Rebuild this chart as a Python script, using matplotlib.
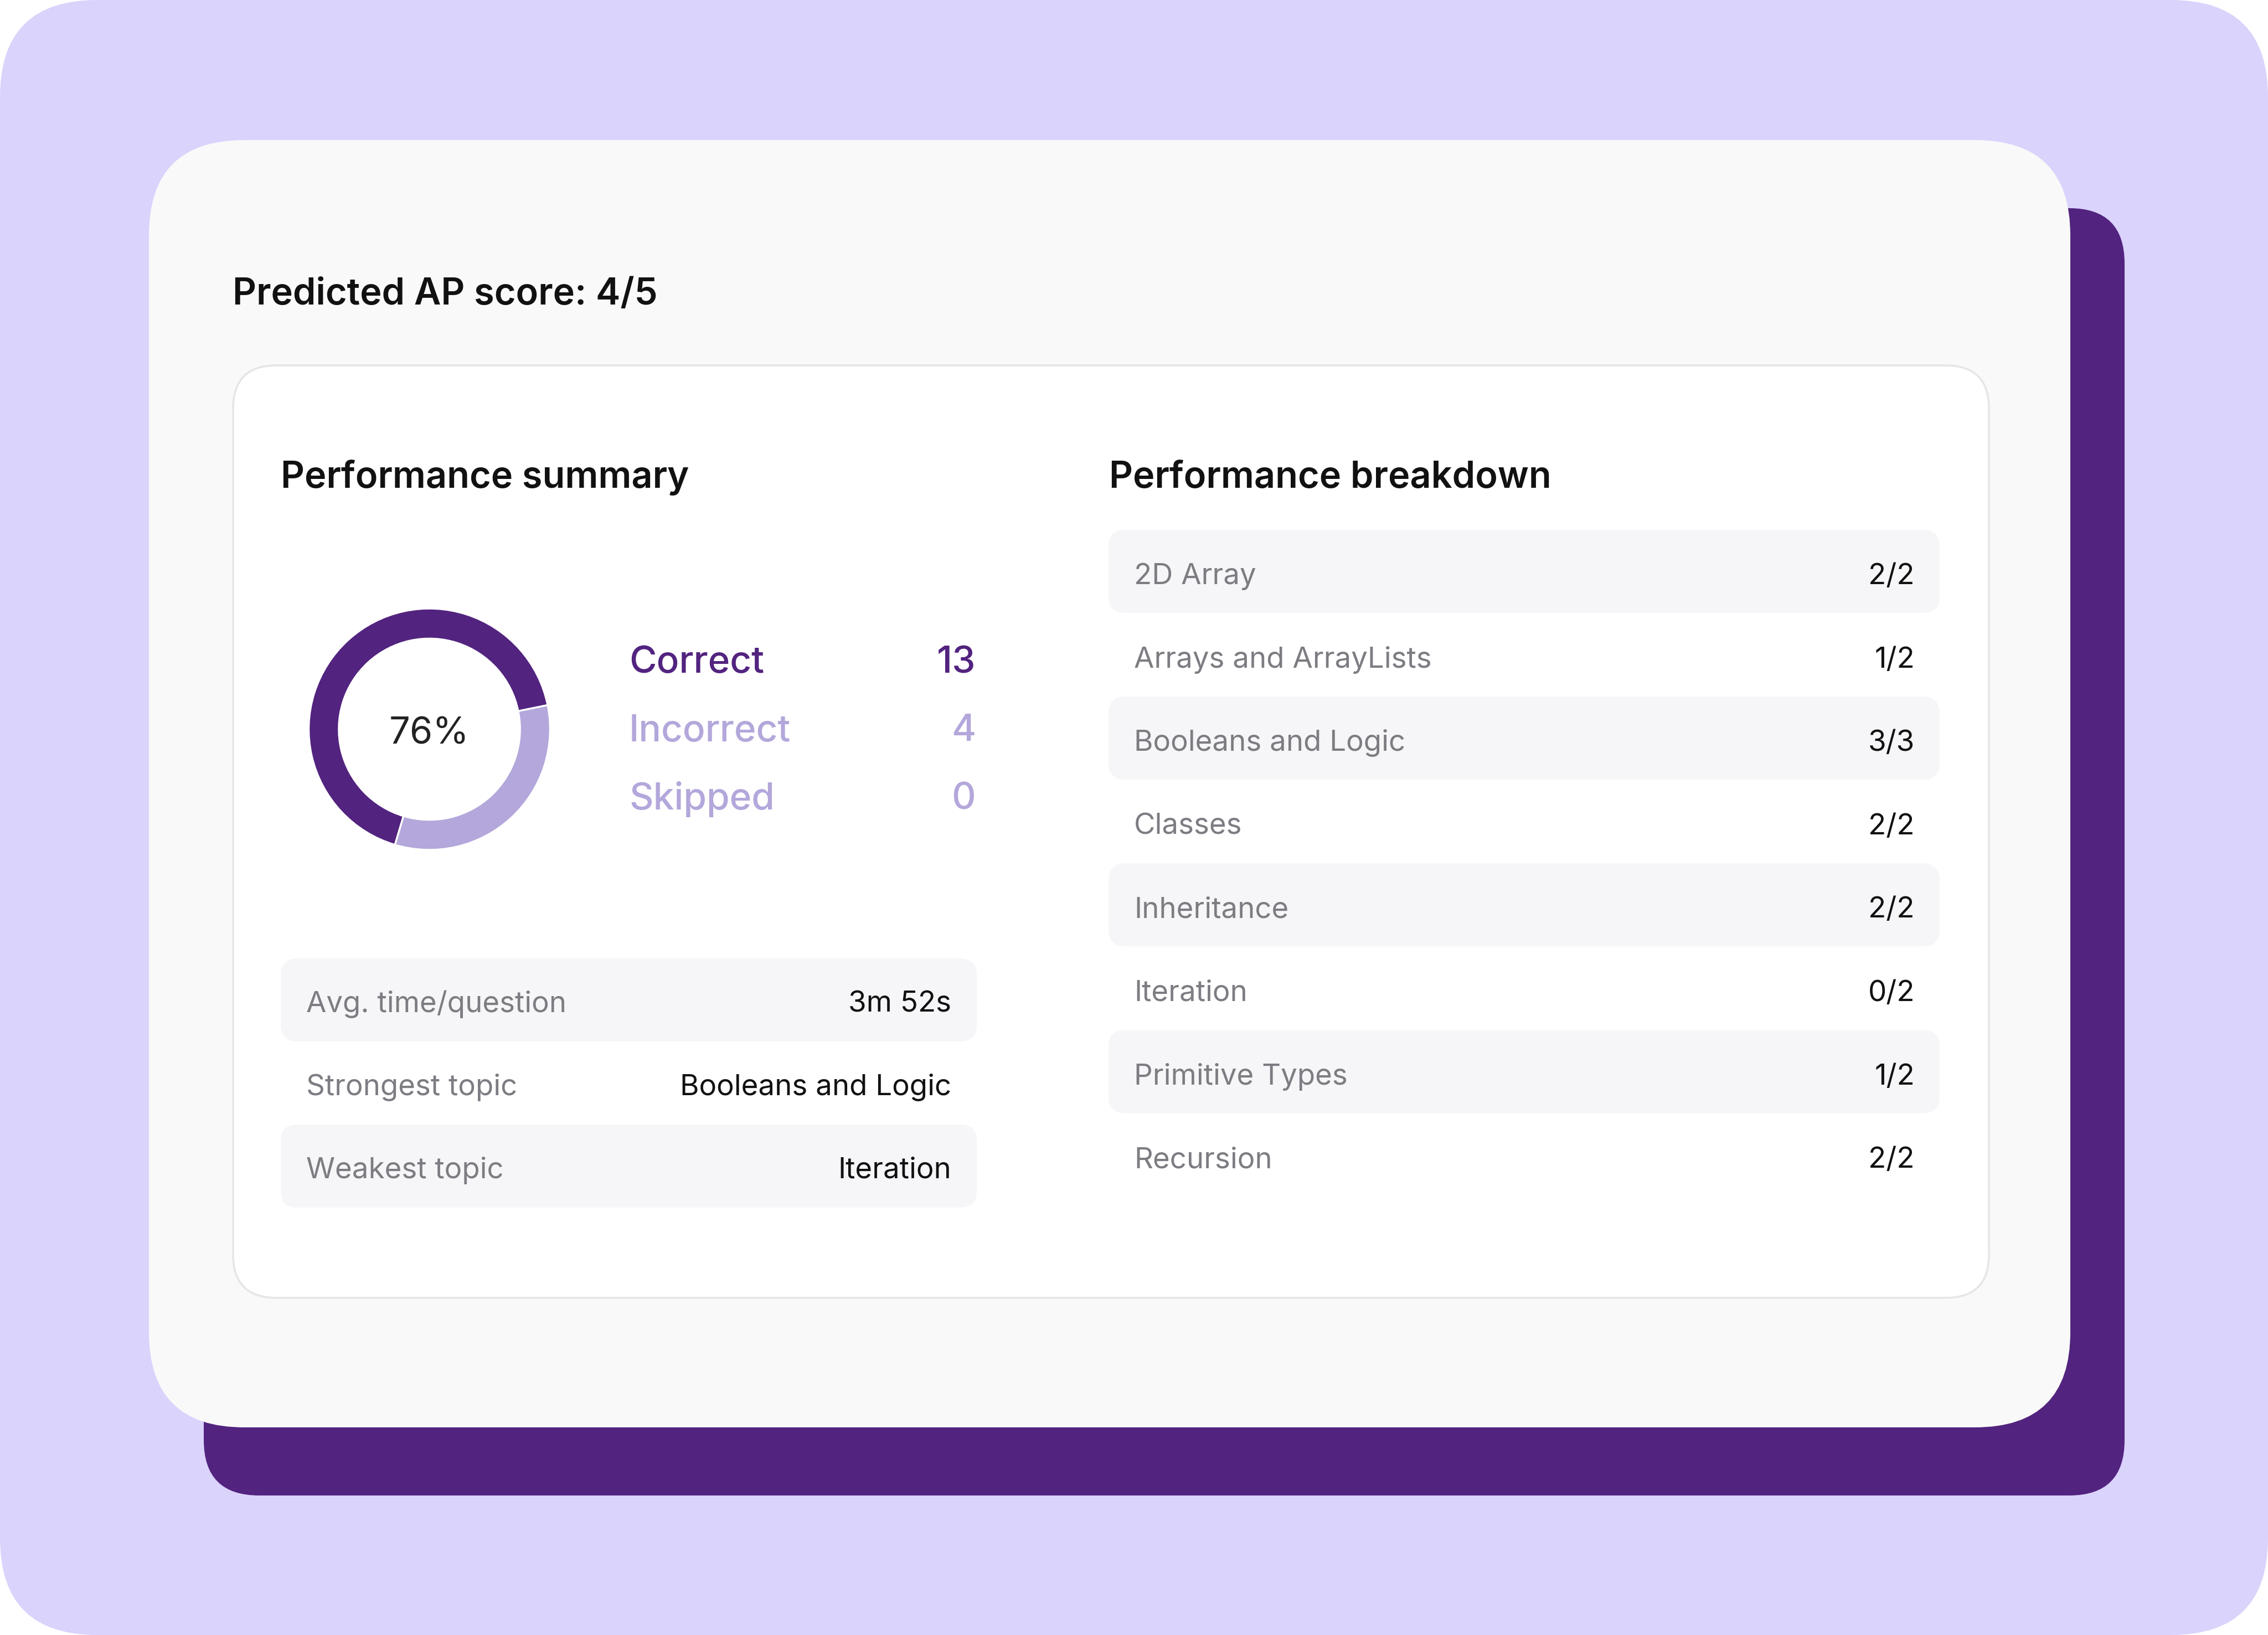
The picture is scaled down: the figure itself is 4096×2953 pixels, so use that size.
import numpy as np
import matplotlib
matplotlib.use('Agg')
import matplotlib.pyplot as plt
from matplotlib.patches import FancyBboxPatch

plt.rcParams['font.family'] = ['Inter', 'DejaVu Sans']

# data ========================================================================
score_title = 'Predicted AP score: 4/5'
score_pct = '76%'

summary_labels = ['Correct', 'Incorrect', 'Skipped']
summary_counts = [13, 4, 0]
# ring as drawn in the card (it does not follow 13/17 exactly)
ring_shares = [67.2, 32.8]

stat_labels = ['Avg. time/question', 'Strongest topic', 'Weakest topic']
stat_values = ['3m 52s', 'Booleans and Logic', 'Iteration']

topics = ['2D Array', 'Arrays and ArrayLists', 'Booleans and Logic',
          'Classes', 'Inheritance', 'Iteration', 'Primitive Types',
          'Recursion']
topic_correct = [2, 1, 3, 2, 2, 0, 1, 2]
topic_total = [2, 2, 3, 2, 2, 2, 2, 2]

# style =======================================================================
W, H = 4096, 2953
DPI = 200
LAVENDER = '#DAD3FC'
DEEP = '#52237F'
LIGHT = '#B3A7DB'
CARD = '#F9F9F9'
STRIPE = '#F6F6F8'
GREY_TXT = '#7C7C82'
INK = '#111111'
TITLE_SIZE = 24.0
TABLE_SIZE = 19.0


def rounded_box(ax, x0, y0, x1, y1, r, fc, ec='none', lw=0, z=1):
    ax.add_patch(FancyBboxPatch(
        (x0, y0), x1 - x0, y1 - y0,
        boxstyle=f'round,pad=0,rounding_size={r}',
        facecolor=fc, edgecolor=ec, linewidth=lw, zorder=z))


fig = plt.figure(figsize=(W / DPI, H / DPI), dpi=DPI, facecolor='white')
ax = fig.add_axes([0, 0, 1, 1])
ax.set_xlim(0, W)
ax.set_ylim(H, 0)
ax.axis('off')

# background layers
rounded_box(ax, 0, 0, W, H, 175, LAVENDER, z=0)
rounded_box(ax, 368, 376, 3837, 2701, 100, DEEP, z=1)
rounded_box(ax, 269, 253, 3739, 2578, 172, CARD, z=2)
rounded_box(ax, 421, 660, 3592, 2344, 78, 'white', ec='#E6E6EA', lw=1.3, z=3)

ax.text(420, 550, score_title, fontsize=TITLE_SIZE, fontweight='semibold',
        color=INK, va='baseline', ha='left', zorder=5)
ax.text(507, 881, 'Performance summary', fontsize=TITLE_SIZE,
        fontweight='semibold', color=INK, va='baseline', zorder=5)
ax.text(2003, 881, 'Performance breakdown', fontsize=TITLE_SIZE,
        fontweight='semibold', color=INK, va='baseline', zorder=5)

# donut =======================================================================
cx, cy, rad = 775.5, 1317, 219
ax_d = fig.add_axes([(cx - rad) / W, 1 - (cy + rad) / H,
                     2 * rad / W, 2 * rad / H])
ax_d.pie(ring_shares, colors=[DEEP, LIGHT], startangle=11.5,
         counterclock=True, radius=1.0,
         wedgeprops=dict(width=0.249, edgecolor='white', linewidth=1.2))
ax_d.set_xlim(-1.005, 1.005)
ax_d.set_ylim(-1.005, 1.005)
ax_d.set_aspect('equal')
ax_d.axis('off')

ax.text(775, 1344, score_pct, fontsize=24.0, color='#222222',
        ha='center', va='baseline', zorder=5)

legend_colors = [DEEP, LIGHT, LIGHT]
for i, (lab, cnt) in enumerate(zip(summary_labels, summary_counts)):
    yb = 1215 + i * 123.5
    ax.text(1136, yb, lab, fontsize=24.3, fontweight='medium',
            color=legend_colors[i], va='baseline', ha='left', zorder=5)
    ax.text(1762, yb, str(cnt), fontsize=24.3, fontweight='medium',
            color=legend_colors[i], va='baseline', ha='right', zorder=5)

# summary stats table =========================================================
row_h = 150
for i, (lab, val) in enumerate(zip(stat_labels, stat_values)):
    top = 1731 + i * row_h
    if i % 2 == 0:
        rounded_box(ax, 507, top, 1764, top + row_h, 30, STRIPE, z=4)
    ax.text(553, top + 97, lab, fontsize=TABLE_SIZE, color=GREY_TXT,
            va='baseline', ha='left', zorder=5)
    ax.text(1718, top + 97, val, fontsize=TABLE_SIZE, color=INK,
            va='baseline', ha='right', zorder=5)

# breakdown table =============================================================
row_step = 150.6
for i, (topic, c, t) in enumerate(zip(topics, topic_correct, topic_total)):
    top = 957 + i * row_step
    if i % 2 == 0:
        rounded_box(ax, 2002, top, 3503, top + row_h, 30, STRIPE, z=4)
    ax.text(2048, top + 98, topic, fontsize=TABLE_SIZE, color=GREY_TXT,
            va='baseline', ha='left', zorder=5)
    ax.text(3458, top + 98, f'{c}/{t}', fontsize=TABLE_SIZE, color=INK,
            va='baseline', ha='right', zorder=5)

fig.savefig('out.png', dpi=DPI, facecolor='white')
